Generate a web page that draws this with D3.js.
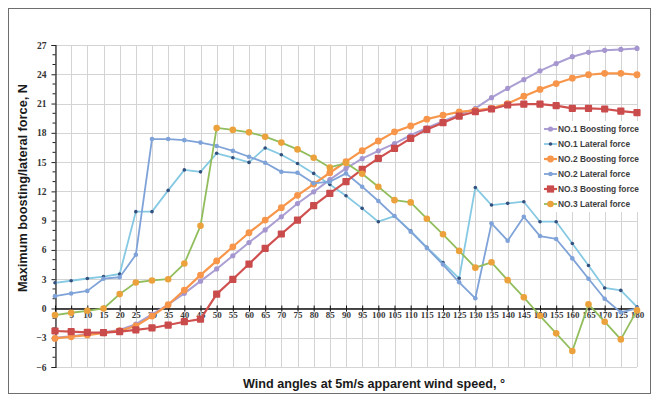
<!DOCTYPE html>
<html>
<head>
<meta charset="utf-8">
<script src="https://cdn.jsdelivr.net/npm/d3@7/dist/d3.min.js"></script>
<style>
html,body{margin:0;padding:0;background:#fff;}
svg{display:block;}
</style>
</head>
<body>
<svg id="chart" width="661" height="400"></svg>
<script>
const angles = [0,5,10,15,20,25,30,35,40,45,50,55,60,65,70,75,80,85,90,95,100,105,110,115,120,125,130,135,140,145,150,155,160,165,170,175,180];
const xTickLabels = ["0","5","10","15","20","25","30","35","40","45","50","55","60","65","70","75","80","85","90","95","100","105","110","115","120","125","130","135","140","145","150","155","160","165","170","125","180"];
const yTicks = [-6,-3,0,3,6,9,12,15,18,21,24,27];

const no1Boosting = [-3.0,-2.85,-2.65,-2.45,-2.2,-1.6,-0.6,0.4,1.55,2.8,4.05,5.4,6.75,8.05,9.4,10.75,11.95,13.2,14.35,15.35,16.15,16.9,17.75,18.5,19.2,19.85,20.5,21.6,22.55,23.45,24.35,25.1,25.8,26.25,26.45,26.55,26.65];
const no1Lateral = [2.63,2.84,3.07,3.26,3.53,9.92,9.92,12.1,14.2,14.0,15.9,15.45,14.97,16.45,15.75,14.85,13.84,12.7,11.55,10.26,8.89,9.47,7.95,6.26,4.7,3.09,12.4,10.6,10.77,10.94,8.89,8.89,6.65,4.4,2.1,1.85,0.15];
const no2Boosting = [-3.07,-2.9,-2.73,-2.5,-2.28,-1.8,-0.78,0.38,1.88,3.42,4.87,6.32,7.76,9.06,10.33,11.59,12.75,13.91,15.04,16.17,17.16,18.1,18.7,19.4,19.8,20.15,20.3,20.5,21.0,21.75,22.45,23.05,23.6,23.95,24.1,24.1,23.95];
const no2Lateral = [1.26,1.54,1.8,3.05,3.2,5.5,17.36,17.36,17.25,17.0,16.65,16.15,15.55,14.94,14.0,13.9,12.82,12.99,13.84,12.48,11.01,9.47,7.87,6.2,4.5,2.68,1.04,8.72,6.94,9.4,7.42,7.12,5.13,3.05,1.0,-0.4,0.0];
const no3Boosting = [-2.31,-2.38,-2.45,-2.48,-2.38,-2.2,-2.0,-1.7,-1.36,-1.1,1.47,2.99,4.55,6.16,7.63,9.06,10.53,11.79,12.99,14.25,15.38,16.41,17.43,18.35,19.04,19.72,20.16,20.44,20.85,20.95,20.95,20.78,20.5,20.5,20.44,20.23,20.06];
const no3Lateral = [-0.68,-0.44,-0.24,0.0,1.47,2.66,2.87,3.0,4.6,8.47,18.5,18.3,18.05,17.6,17.0,16.3,15.45,14.45,14.9,13.8,12.48,11.1,10.87,9.2,7.6,5.9,4.18,4.73,2.9,1.14,-0.75,-2.55,-4.36,0.42,-1.36,-3.17,-0.2];

const seriesNames = ["NO.1 Boosting force","NO.1 Lateral force","NO.2 Boosting force","NO.2 Lateral force","NO.3 Boosting force","NO.3 Lateral force"];

const styles = [
  {line:"#ab9fd3", marker:"#a596cf", shape:"circle", r:2.6, w:2},
  {line:"#86c9e3", marker:"#34507e", shape:"circle", r:1.8, w:1.8},
  {line:"#f7964a", marker:"#f7964a", shape:"circle", r:3.4, w:2.2},
  {line:"#7fa3d8", marker:"#7fa3d8", shape:"circle", r:2.3, w:1.8},
  {line:"#d0504f", marker:"#c94b4b", shape:"square", r:3.6, w:2.2},
  {line:"#92bd5c", marker:"#eca23c", shape:"circle", r:3.3, w:1.8}
];
const seriesValues = [no1Boosting,no1Lateral,no2Boosting,no2Lateral,no3Boosting,no3Lateral];

const svg = d3.select("#chart");
const x = d3.scaleLinear().domain([0,180]).range([55,637]);
const y = d3.scaleLinear().domain([-6,27]).range([367,45]);

// outer frame
svg.append("rect").attr("x",8.5).attr("y",8.5).attr("width",642).attr("height",385)
  .attr("fill","#fff").attr("stroke","#6e6e6e").attr("stroke-width",1);

// gridlines
const grid = svg.append("g");
grid.selectAll("line.v").data(angles).join("line")
  .attr("x1",d=>Math.round(x(d))+0.5).attr("x2",d=>Math.round(x(d))+0.5)
  .attr("y1",y(27)).attr("y2",y(-6))
  .attr("stroke","#d4d4d4").attr("stroke-width",1);
grid.selectAll("line.h").data(yTicks).join("line")
  .attr("y1",d=>Math.round(y(d))+0.5).attr("y2",d=>Math.round(y(d))+0.5)
  .attr("x1",x(0)).attr("x2",x(180))
  .attr("stroke","#d4d4d4").attr("stroke-width",1);

// y axis
const yAxis = d3.axisLeft(y).tickValues(yTicks).tickSize(4).tickFormat(d3.format("d"));
const gy = svg.append("g").attr("transform",`translate(${Math.round(x(0))+0.5},0)`).call(yAxis);
gy.select(".domain").attr("stroke","#222").attr("stroke-width",1.2);
gy.selectAll(".tick line").attr("stroke","#222");
gy.selectAll(".tick text").attr("font-family","Liberation Serif").attr("font-weight","bold")
  .attr("font-size","9.5px").attr("fill","#333").attr("x",-9);
// minor ticks
const minor = d3.range(-6,28,1).filter(v=>v%3!==0);
gy.selectAll("line.minor").data(minor).join("line").attr("class","minor")
  .attr("x1",-3).attr("x2",0).attr("y1",d=>y(d)).attr("y2",d=>y(d)).attr("stroke","#222");

// x axis at zero
const xAxis = d3.axisBottom(x).tickValues(angles).tickSizeInner(3).tickSizeOuter(0)
  .tickFormat((d,i)=>xTickLabels[i]);
const gx = svg.append("g").attr("transform",`translate(0,${Math.round(y(0))+0.5})`).call(xAxis);
gx.select(".domain").attr("stroke","#111").attr("stroke-width",1.6);
gx.selectAll(".tick line").attr("stroke","#111").attr("y1",-3);
gx.selectAll(".tick text").attr("font-family","Liberation Serif").attr("font-weight","bold")
  .attr("font-size","9px").attr("fill","#3a3a3a").attr("dy","0.6em").attr("y",4);

// series
const lineGen = d3.line().defined(d=>d[1]!==null).x(d=>x(d[0])).y(d=>y(d[1]));
seriesValues.forEach((vals,i)=>{
  const st = styles[i];
  const pts = angles.map((a,j)=>[a,vals[j]]);
  const g = svg.append("g");
  g.append("path").datum(pts).attr("d",lineGen).attr("fill","none")
    .attr("stroke",st.line).attr("stroke-width",st.w).attr("stroke-linejoin","round");
  if(st.shape==="square"){
    g.selectAll("rect").data(pts).join("rect")
      .attr("x",d=>x(d[0])-st.r).attr("y",d=>y(d[1])-st.r)
      .attr("width",st.r*2).attr("height",st.r*2).attr("rx",1)
      .attr("fill",st.marker);
  } else {
    g.selectAll("circle").data(pts).join("circle")
      .attr("cx",d=>x(d[0])).attr("cy",d=>y(d[1])).attr("r",st.r)
      .attr("fill",st.marker);
  }
});

// legend
const lg = svg.append("g");
lg.append("rect").attr("x",541).attr("y",121).attr("width",104).attr("height",91).attr("fill","#fff");
const legendY = d3.scaleLinear().domain([0,5]).range([129,204]);
seriesNames.forEach((name,i)=>{
  const st = styles[i];
  const yy = legendY(i);
  lg.append("line").attr("x1",544).attr("x2",557).attr("y1",yy).attr("y2",yy)
    .attr("stroke",st.line).attr("stroke-width",st.w);
  if(st.shape==="square"){
    lg.append("rect").attr("x",550.5-st.r).attr("y",yy-st.r).attr("width",st.r*2).attr("height",st.r*2).attr("fill",st.marker);
  } else {
    lg.append("circle").attr("cx",550.5).attr("cy",yy).attr("r",st.r).attr("fill",st.marker);
  }
  lg.append("text").attr("class","lgt").attr("x",558).attr("y",yy).attr("dy","0.35em")
    .attr("font-family","Liberation Sans").attr("font-weight","bold").attr("font-size","9.5px")
    .attr("fill","#3c3c3c").text(name);
});
const lt = lg.selectAll("text.lgt").nodes();
const k = 81/lt[0].getComputedTextLength();
lt.forEach(n=>{ n.setAttribute("textLength", n.getComputedTextLength()*k); n.setAttribute("lengthAdjust","spacingAndGlyphs"); });

// axis titles
svg.append("text").attr("transform","translate(27,188) rotate(-90)").attr("text-anchor","middle")
  .attr("font-family","Liberation Sans").attr("font-weight","bold").attr("font-size","12.5px")
  .attr("fill","#1a1a1a").attr("textLength",208).attr("lengthAdjust","spacingAndGlyphs")
  .text("Maximum boosting/lateral force, N");
svg.append("text").attr("x",243).attr("y",388)
  .attr("font-family","Liberation Sans").attr("font-weight","bold").attr("font-size","12.5px")
  .attr("fill","#1a1a1a").attr("textLength",262).attr("lengthAdjust","spacingAndGlyphs")
  .text("Wind angles at 5m/s apparent wind speed, \u00B0");
</script>
</body>
</html>
